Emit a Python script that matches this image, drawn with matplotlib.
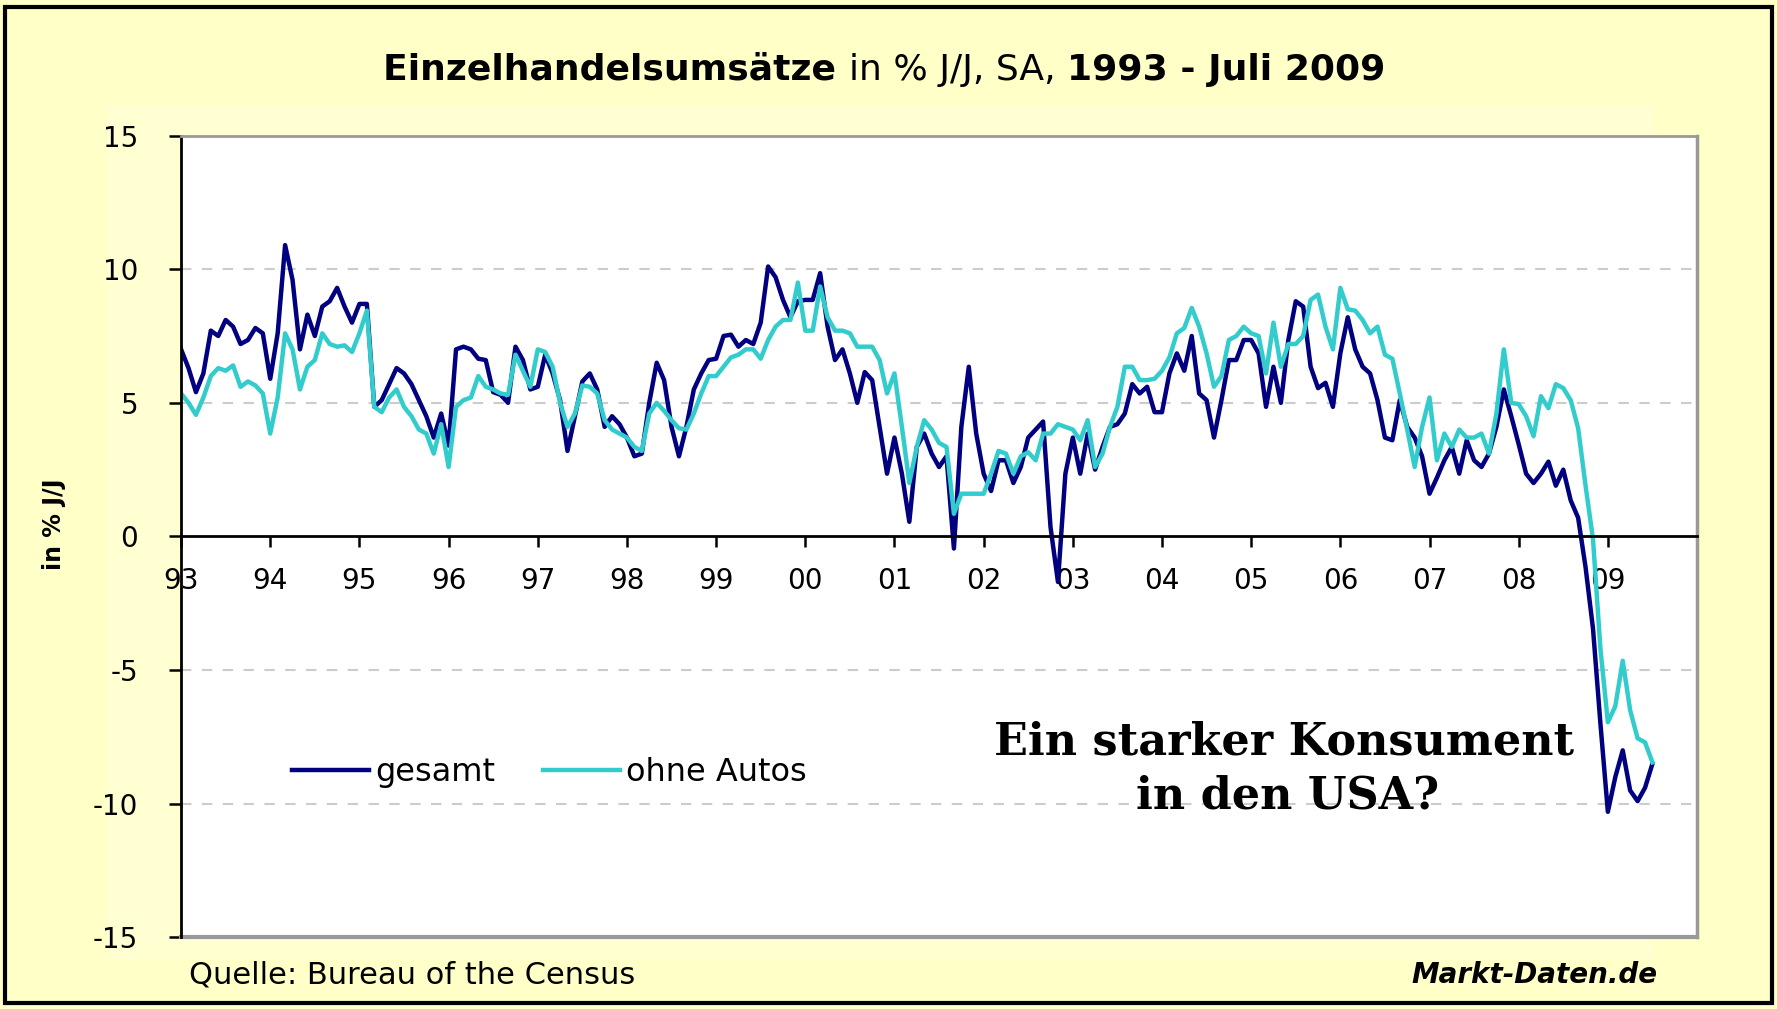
import pandas as pd
import matplotlib
matplotlib.use('Agg')
from matplotlib import pyplot as plt
from matplotlib.patches import Rectangle

# Einzelhandelsumsaetze USA, % J/J, monatlich Jan 1993 - Jul 2009
gesamt = [7.0, 6.3, 5.4, 6.1, 7.7, 7.5, 8.1, 7.85, 7.2, 7.35, 7.8, 7.6,
          5.9, 7.6, 10.9, 9.6, 7.0, 8.3, 7.5, 8.6, 8.8, 9.3, 8.6, 8.0,
          8.7, 8.7, 4.85, 5.1, 5.7, 6.3, 6.1, 5.7, 5.1, 4.5, 3.7, 4.6,
          3.4, 7.0, 7.1, 7.0, 6.65, 6.6, 5.4, 5.3, 5.0, 7.1, 6.6, 5.5,
          5.6, 6.8, 6.1, 5.1, 3.2, 4.5, 5.8, 6.1, 5.5, 4.1, 4.5, 4.2,
          3.7, 3.0, 3.1, 5.0, 6.5, 5.85, 4.1, 3.0, 4.1, 5.5, 6.1, 6.6,
          6.65, 7.5, 7.55, 7.1, 7.35, 7.2, 8.0, 10.1, 9.7, 8.85, 8.2, 8.8,
          8.85, 8.85, 9.85, 7.85, 6.6, 7.0, 6.1, 5.0, 6.15, 5.85, 4.1, 2.35,
          3.7, 2.35, 0.55, 3.35, 3.85, 3.1, 2.6, 3.0, -0.45, 4.1, 6.35, 3.85,
          2.35, 1.7, 2.85, 2.85, 2.0, 2.6, 3.7, 4.0, 4.3, 0.35, -1.7, 2.35,
          3.7, 2.35, 3.85, 2.5, 3.35, 4.1, 4.2, 4.6, 5.7, 5.35, 5.6, 4.65,
          4.65, 6.1, 6.85, 6.2, 7.5, 5.35, 5.1, 3.7, 5.1, 6.6, 6.6, 7.35,
          7.35, 6.85, 4.85, 6.35, 5.0, 7.35, 8.8, 8.6, 6.35, 5.55, 5.75, 4.85,
          6.85, 8.2, 7.0, 6.35, 6.1, 5.1, 3.7, 3.6, 5.1, 4.1, 3.7, 3.0,
          1.6, 2.2, 2.85, 3.35, 2.35, 3.6, 2.85, 2.6, 3.1, 4.1, 5.5, 4.5,
          3.45, 2.35, 2.0, 2.35, 2.8, 1.9, 2.5, 1.35, 0.7, -1.15, -3.45, -7.0,
          -10.3, -9.0, -8.0, -9.5, -9.9, -9.4, -8.5]

ohne_autos = [5.35, 5.0, 4.55, 5.2, 6.0, 6.3, 6.2, 6.4, 5.6, 5.8, 5.65, 5.35,
              3.85, 5.2, 7.6, 7.0, 5.5, 6.35, 6.6, 7.6, 7.2, 7.1, 7.15, 6.9,
              7.6, 8.45, 4.85, 4.65, 5.2, 5.5, 4.85, 4.5, 4.0, 3.85, 3.1, 4.2,
              2.6, 4.85, 5.1, 5.2, 6.0, 5.6, 5.5, 5.35, 5.3, 6.8, 6.2, 5.6,
              7.0, 6.9, 6.35, 5.0, 4.1, 4.6, 5.65, 5.6, 5.35, 4.35, 4.0, 3.85,
              3.7, 3.35, 3.2, 4.6, 5.0, 4.7, 4.35, 4.05, 4.0, 4.6, 5.35, 6.0,
              6.0, 6.35, 6.7, 6.8, 7.0, 7.0, 6.65, 7.35, 7.85, 8.1, 8.1, 9.5,
              7.7, 7.7, 9.35, 8.2, 7.7, 7.7, 7.6, 7.1, 7.1, 7.1, 6.6, 5.35,
              6.1, 4.1, 2.0, 3.35, 4.35, 4.0, 3.5, 3.35, 0.85, 1.6, 1.6, 1.6,
              1.6, 2.35, 3.2, 3.1, 2.35, 3.0, 3.15, 2.85, 3.85, 3.85, 4.2, 4.1,
              4.0, 3.6, 4.35, 2.6, 3.1, 4.1, 4.85, 6.35, 6.35, 5.85, 5.85, 5.9,
              6.2, 6.7, 7.6, 7.8, 8.55, 7.85, 6.85, 5.6, 6.0, 7.35, 7.5, 7.85,
              7.6, 7.5, 6.1, 8.0, 6.35, 7.2, 7.2, 7.5, 8.85, 9.05, 7.85, 7.0,
              9.3, 8.5, 8.45, 8.1, 7.6, 7.85, 6.8, 6.65, 5.35, 4.0, 2.6, 4.1,
              5.2, 2.85, 3.85, 3.35, 4.0, 3.7, 3.7, 3.85, 3.1, 4.6, 7.0, 5.0,
              4.95, 4.5, 3.75, 5.25, 4.8, 5.7, 5.55, 5.1, 4.05, 1.9, -0.1, -4.2,
              -6.95, -6.35, -4.65, -6.5, -7.55, -7.7, -8.45]

jahre = ['93', '94', '95', '96', '97', '98', '99', '00', '01', '02',
         '03', '04', '05', '06', '07', '08', '09']
y_ticks = [-15, -10, -5, 0, 5, 10, 15]

plt.rcParams['font.family'] = ['DejaVu Sans']

monate = pd.date_range('1993-01-01', periods=len(gesamt), freq='MS')
x = monate.year + (monate.month - 1) / 12.0

bg = '#FFFFC8'
fig = plt.figure(figsize=(17.77, 10.09), dpi=100, facecolor=bg)
# innere, etwas hellere Flaeche
fig.patches.append(Rectangle((0.06, 0.05), 0.87, 0.845, transform=fig.transFigure,
                             facecolor='#FFFFD2', edgecolor='none', zorder=-2))
fig.patches.append(Rectangle((0.003, 0.006), 0.994, 0.987, transform=fig.transFigure,
                             facecolor='none', edgecolor='black', linewidth=3, zorder=5))

ax = fig.add_axes([0.1019, 0.0709, 0.8531, 0.7948])
ax.set_facecolor('white')

ax.plot(x, gesamt, color='#000080', linewidth=3.2, label='gesamt')
ax.plot(x, ohne_autos, color='#33CCCC', linewidth=3.2, label='ohne Autos')

ax.set_xlim(1993, 2010)
ax.set_ylim(-15, 15)
ax.set_xticks(range(1993, 2011))
ax.set_xticklabels(jahre + [''])
ax.set_yticks(y_ticks)
ax.set_yticklabels([str(v) for v in y_ticks])

for v in [-10, -5, 5, 10]:
    ax.axhline(v, color='#CCCCCC', linewidth=1.5, dashes=(5, 5), zorder=0)

ax.spines['bottom'].set_position(('data', 0))
ax.spines['bottom'].set_color('black')
ax.spines['bottom'].set_linewidth(2)
ax.spines['left'].set_color('black')
ax.spines['left'].set_linewidth(2)
ax.spines['top'].set_color('#999999')
ax.spines['top'].set_linewidth(2)
ax.spines['right'].set_color('#999999')
ax.spines['right'].set_linewidth(2.5)
ax.axhline(-15, color='#999999', linewidth=3, clip_on=False)

ax.tick_params(axis='x', direction='out', length=8, width=1.8, pad=14, labelsize=20)
ax.tick_params(axis='y', direction='out', length=9, width=1.8, pad=22, labelsize=20)

ax.legend(loc='center left', bbox_to_anchor=(0.1643, 0.2339), bbox_transform=fig.transFigure,
          ncol=2, frameon=False, fontsize=23, handlelength=2.4, handletextpad=0.2,
          columnspacing=1.5, borderpad=0, borderaxespad=0)

fig.text(0.0304, 0.4807, 'in % J/J', rotation=90, ha='center', va='center',
         fontsize=17, fontweight='bold')

ax.text(0.7226, 0.2646, 'Ein starker Konsument', transform=fig.transFigure,
        ha='center', va='center', fontsize=32, fontweight='bold', family='DejaVu Serif')
ax.text(0.7245, 0.2111, 'in den USA?', transform=fig.transFigure,
        ha='center', va='center', fontsize=32, fontweight='bold', family='DejaVu Serif')

fig.text(0.1064, 0.0337, 'Quelle: Bureau of the Census', ha='left', va='center', fontsize=22)
fig.text(0.9325, 0.0337, 'Markt-Daten.de', ha='right', va='center', fontsize=20,
         fontweight='bold', fontstyle='italic')

# Titel mit gemischten Schriftstaerken
teile = [('Einzelhandelsumsätze ', 'bold'), ('in % J/J, SA, ', 'normal'),
         ('1993 - Juli 2009', 'bold')]
fig.canvas.draw()
r = fig.canvas.get_renderer()
breiten = []
for txt, w in teile:
    t = fig.text(0, 0, txt.replace(' ', '\u00a0'), fontsize=26, fontweight=w)
    breiten.append(t.get_window_extent(r).width / fig.bbox.width)
    t.remove()
x0 = 0.4977 - sum(breiten) / 2
for (txt, w), b in zip(teile, breiten):
    fig.text(x0, 0.931, txt.replace(' ', '\u00a0'), fontsize=26, fontweight=w,
             ha='left', va='center')
    x0 += b

plt.savefig('out.png', dpi=100, facecolor=bg)
